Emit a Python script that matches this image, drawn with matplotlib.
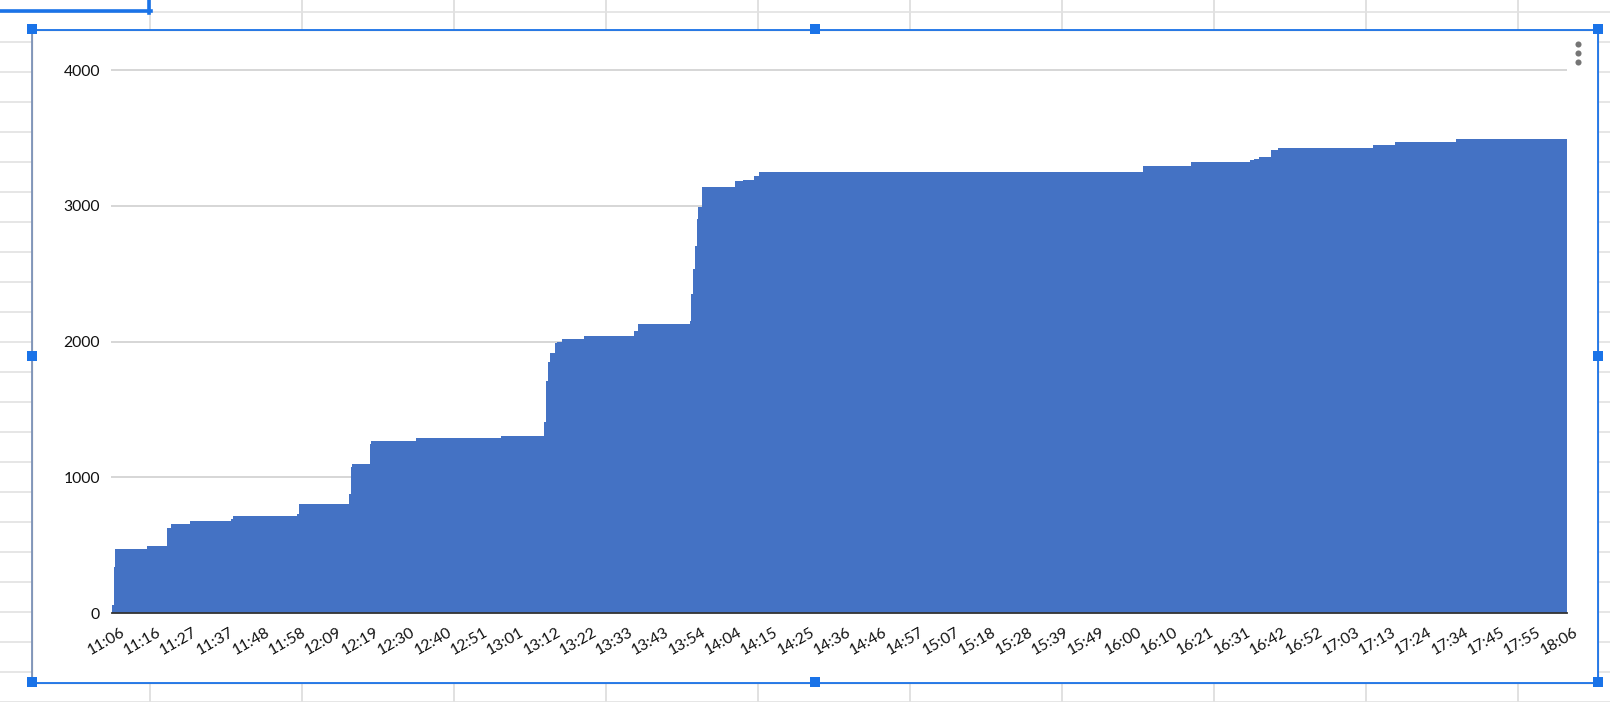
import numpy as np
import pandas as pd
import matplotlib
matplotlib.use("Agg")
import matplotlib.pyplot as plt
from matplotlib.patches import Rectangle
from matplotlib.lines import Line2D
import matplotlib.transforms as mtransforms

# ---------------- data (cumulative value, sampled every 30 s) ----------------
start_time = "11:06:00"
end_time = "18:06:00"
sample_interval = "30s"

# times at which the cumulative value changes, and the new value
step_starts = [
    "11:06:00", "11:06:30", "11:07:00", "11:16:00", "11:22:00", "11:23:00",
    "11:28:30", "11:40:30", "11:41:00", "11:59:30", "12:00:00", "12:14:30",
    "12:15:00", "12:15:30", "12:20:30", "12:21:00", "12:32:00", "12:34:00",
    "12:58:30", "13:11:00", "13:11:30", "13:12:00", "13:12:30", "13:14:00",
    "13:14:30", "13:16:00", "13:22:30", "13:37:00", "13:38:00", "13:53:00",
    "13:53:30", "13:54:00", "13:54:30", "13:55:00", "13:55:30", "13:56:30",
    "14:06:00", "14:08:30", "14:11:30", "14:13:00", "16:04:00", "16:18:00",
    "16:35:00", "16:36:00", "16:37:30", "16:41:00", "16:43:00", "17:10:30",
    "17:17:00", "17:34:30",
]
step_values = [
    60, 340, 470, 494, 631, 656,
    678, 692, 714, 734, 802, 876,
    1076, 1096, 1248, 1265, 1272, 1294,
    1309, 1407, 1713, 1848, 1913, 1987,
    1994, 2021, 2043, 2080, 2131, 2154,
    2350, 2534, 2705, 2904, 2994, 3140,
    3184, 3192, 3216, 3250, 3294, 3323,
    3335, 3347, 3359, 3410, 3425, 3447,
    3469, 3491,
]
y_ticks = [0, 1000, 2000, 3000, 4000]
label_every = 21  # a category label every 21 samples

# build the sampled series (each value holds until the next change)
day = "2024-01-01 "
times = pd.date_range(day + start_time, day + end_time, freq=sample_interval)
change_times = pd.to_datetime([day + s for s in step_starts])
idx = np.searchsorted(change_times.values, times.values, side="right") - 1
values = np.asarray(step_values)[idx]
categories = [t.strftime("%H:%M") for t in times]
n = len(categories)

# ---------------- figure ----------------
W, H = 1610, 702
fig = plt.figure(figsize=(W / 100, H / 100), dpi=100)
fig.patch.set_facecolor("white")


def fx(x):
    return x / W


def fy(y):
    return 1 - y / H


# spreadsheet grid behind the chart
grid_c = "#e1e1e1"
for k in range(24):
    y = 11.7 + 30 * k
    fig.add_artist(Line2D([0, 1], [fy(y), fy(y)], color=grid_c, lw=1.2, zorder=0))
for k in range(10):
    x = 150 + 151.96 * k
    fig.add_artist(Line2D([fx(x), fx(x)], [0, 1], color=grid_c, lw=1.4, zorder=0))

# selected cell border (top-left)
sel_c = "#1a73e8"
fig.add_artist(Line2D([0, fx(150.5)], [fy(10.8), fy(10.8)], color=sel_c, lw=2.6, zorder=1))
fig.add_artist(Line2D([fx(148.8), fx(148.8)], [1, fy(12.5)], color=sel_c, lw=2.6, zorder=1))

# chart white area
cx0, cy0, cx1, cy1 = 31.7, 29.5, 1598.3, 682.5
fig.add_artist(Rectangle((fx(cx0), fy(cy1)), fx(cx1) - fx(cx0), fy(cy0) - fy(cy1),
                         transform=fig.transFigure, facecolor="white",
                         edgecolor="#b8b8b8", lw=0.9, zorder=2))
# selection border (top, right, bottom blue; left greyish)
fig.add_artist(Line2D([fx(cx0), fx(cx1), fx(cx1), fx(cx0)],
                      [fy(cy0), fy(cy0), fy(cy1), fy(cy1)],
                      color=sel_c, lw=1.3, zorder=6))
fig.add_artist(Line2D([fx(cx0), fx(cx0)], [fy(cy0), fy(cy1)],
                      color="#7d93b8", lw=1.3, zorder=6))

# handles
mx = (cx0 + cx1) / 2
my = (cy0 + cy1) / 2
hx = [cx0, mx, cx1, cx0, cx1, cx0, mx, cx1]
hy = [cy0 - 1, cy0 - 1, cy0 - 1, my, my, cy1 - 1, cy1 - 1, cy1 - 1]
fig.add_artist(Line2D([fx(v) for v in hx], [fy(v) for v in hy], ls="none",
                      marker="s", markersize=7.4, markerfacecolor=sel_c,
                      markeredgecolor=sel_c, markeredgewidth=0, zorder=7))

# kebab menu
fig.add_artist(Line2D([fx(1577.7)] * 3, [fy(44), fy(53), fy(62)], ls="none",
                      marker="o", markersize=4.4, markerfacecolor="#757575",
                      markeredgewidth=0, zorder=7))

# ---------------- axes ----------------
ax_l, ax_r, ax_top, ax_bot = 112, 1566.7, 70, 613.3
ax = fig.add_axes([fx(ax_l), fy(ax_bot), fx(ax_r) - fx(ax_l), fy(ax_top) - fy(ax_bot)])
ax.set_zorder(5)
ax.patch.set_alpha(0)

xpos = np.arange(n)
ax.bar(xpos, values, width=1.0, color="#4472c4", linewidth=0, antialiased=False, zorder=3)
ax.set_xlim(-0.5, n - 0.5)
ax.set_ylim(0, 4000)

# gridlines
for yt in y_ticks[1:]:
    ax.plot([-0.5 - 0.8, n - 0.5], [yt, yt], color="#cccccc", lw=1.1,
            clip_on=False, zorder=1, solid_capstyle="butt")

for s in ["top", "right", "left"]:
    ax.spines[s].set_visible(False)
ax.spines["bottom"].set_color("#333333")
ax.spines["bottom"].set_linewidth(1.3)
ax.spines["bottom"].set_zorder(4)

font = ["Lato", "DejaVu Sans"]
ax.set_yticks(y_ticks)
ax.set_yticklabels([str(v) for v in y_ticks], fontsize=11.3, color="#111111", family=font)
ax.tick_params(axis="y", length=0, pad=8.6)

ax.set_xticks([])
offset = mtransforms.ScaledTranslation(7 / 100, -12 / 100, fig.dpi_scale_trans)
trans = ax.get_xaxis_transform() + offset
for i in range(0, n, label_every):
    ax.text(i, 0, categories[i], transform=trans, rotation=30,
            rotation_mode="anchor", ha="right", va="top", fontsize=11.3,
            color="#111111", family=font, clip_on=False)

fig.savefig("out.png", dpi=100)
